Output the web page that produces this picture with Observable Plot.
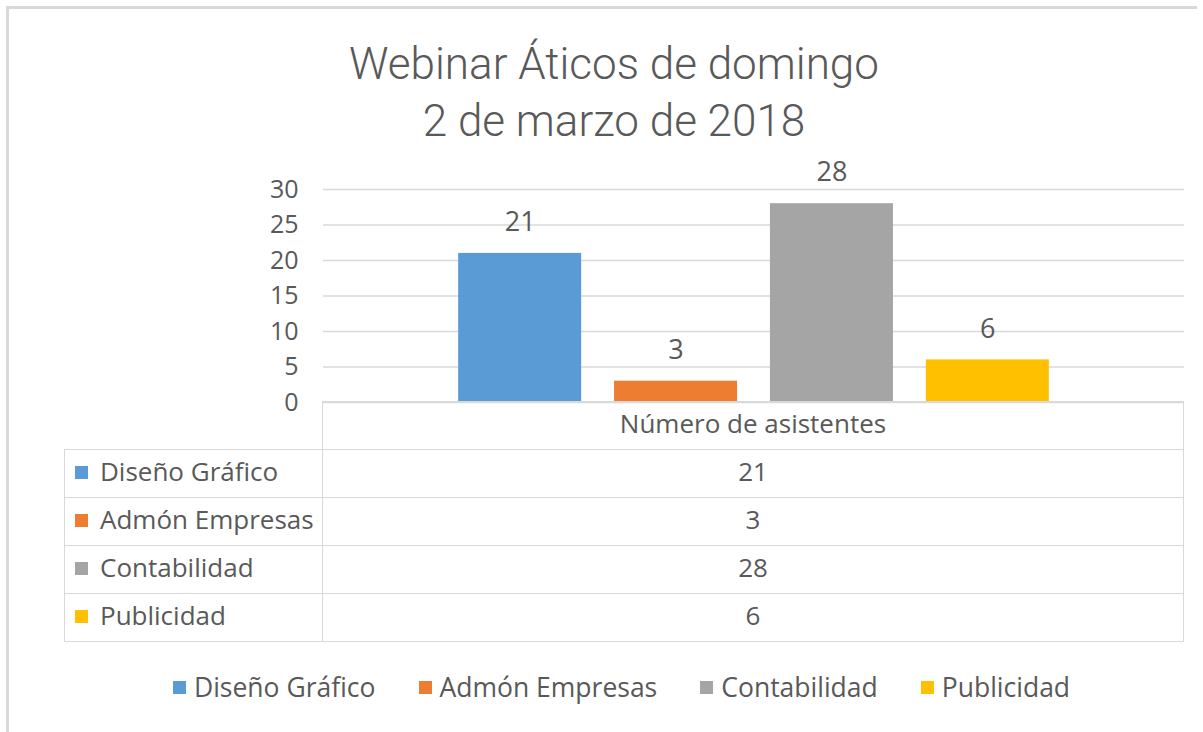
<!DOCTYPE html>
<html><head><meta charset="utf-8">
<script src="https://cdn.jsdelivr.net/npm/d3@7"></script>
<script src="https://cdn.jsdelivr.net/npm/@observablehq/plot@0.6"></script>
<style>
body{margin:0;background:#fff;width:1203px;height:732px;overflow:hidden;position:relative;font-family:"Open Sans",sans-serif;color:#595959}
.frame-top{position:absolute;left:6px;top:6px;width:1191px;height:3px;background:#d9d9d9}
.frame-left{position:absolute;left:6px;top:6px;width:3px;height:726px;background:#d9d9d9}
#title{position:absolute;top:36px;left:0;width:1228px;text-align:center;font-family:Roboto,sans-serif;font-weight:300;font-size:44px;line-height:57px;color:#595959}
#chart{position:absolute;left:0;top:150px}
#table{position:absolute;left:64px;top:401px;border-collapse:collapse;table-layout:fixed;font-size:26px;color:#595959}
#table td{border:1px solid #d9d9d9;height:47px;padding:0;white-space:nowrap}
#table td span.t{position:relative;top:-3px}
#table td.v{text-align:center}
#table td.k{padding-left:10px}
#table td.empty{border:none}
.sw{display:inline-block;width:13px;height:13px;margin-right:12px;vertical-align:middle;position:relative;top:-4px}
#legend{position:absolute;left:0;top:669px;width:1243px;display:flex;justify-content:center;gap:43px;font-size:26.5px;line-height:36px;color:#595959}
#legend .it{display:flex;align-items:center;white-space:nowrap}
#legend .sw{margin-right:8px;top:0}
</style>
</head><body>
<div class="frame-top"></div><div class="frame-left"></div>
<div id="title"></div>
<div id="chart"></div>
<table id="table"><colgroup><col style="width:258px"><col style="width:861px"></colgroup><tbody></tbody></table>
<div id="legend"></div>
<script>
const titleLines = ["Webinar Áticos de domingo", "2 de marzo de 2018"];
const categories = ["Diseño Gráfico", "Admón Empresas", "Contabilidad", "Publicidad"];
const values = [21, 3, 28, 6];
const colors = ["#5B9BD5", "#ED7D31", "#A5A5A5", "#FFC000"];
const yTicks = [0, 5, 10, 15, 20, 25, 30];
const tableHeader = "Número de asistentes";

const data = categories.map((c, i) => ({cat: c, value: values[i]}));

d3.select("#title").selectAll("div").data(titleLines).join("div").text(d => d);

const plot = Plot.plot({
  width: 1203, height: 252,
  marginTop: 39, marginBottom: 0, marginLeft: 323, marginRight: 19,
  style: {fontFamily: "Open Sans, sans-serif", color: "#595959", background: "transparent", overflow: "visible"},
  x: {domain: categories, axis: null, paddingInner: 0.211, paddingOuter: 0.867, round: false},
  y: {domain: [0, 30], axis: null, label: null},
  color: {domain: categories, range: colors},
  marks: [
    Plot.ruleY(yTicks, {stroke: "#d9d9d9", strokeWidth: 1.3}),
    Plot.axisY(yTicks, {tickSize: 0, tickPadding: 25, fontSize: 25, label: null, fill: "#595959"}),
    Plot.barY(data, {x: "cat", y: "value", fill: "cat"}),
    Plot.text(data, {x: "cat", y: "value", text: d => String(d.value), dy: -31, fontSize: 27, fill: "#595959"})
  ]
});
document.getElementById("chart").appendChild(plot);

const tbody = d3.select("#table tbody");
const hr = tbody.append("tr");
hr.append("td").attr("class", "empty");
hr.append("td").attr("class", "v").append("span").attr("class", "t").text(tableHeader);
data.forEach((d, i) => {
  const tr = tbody.append("tr");
  const k = tr.append("td").attr("class", "k");
  k.append("span").attr("class", "sw").style("background", colors[i]);
  k.append("span").attr("class", "t").text(d.cat);
  tr.append("td").attr("class", "v").append("span").attr("class", "t").text(d.value);
});

const lg = d3.select("#legend").selectAll("div").data(data).join("div").attr("class", "it");
lg.append("span").attr("class", "sw").style("background", (d, i) => colors[i]);
lg.append("span").text(d => d.cat);
</script>
</body></html>
